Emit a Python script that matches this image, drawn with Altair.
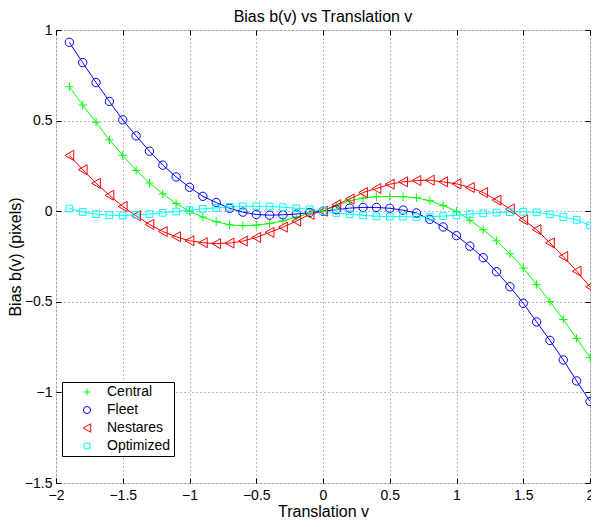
import altair as alt
import pandas as pd

# Translation v (sample positions)
x_vals = [-1.9, -1.8, -1.7, -1.6, -1.5, -1.4, -1.3, -1.2, -1.1, -1.0,
          -0.9, -0.8, -0.7, -0.6, -0.5, -0.4, -0.3, -0.2, -0.1, 0.0,
          0.1, 0.2, 0.3, 0.4, 0.5, 0.6, 0.7, 0.8, 0.9, 1.0,
          1.1, 1.2, 1.3, 1.4, 1.5, 1.6, 1.7, 1.8, 1.9, 2.0]

central = [0.687, 0.586, 0.491, 0.394, 0.308, 0.225, 0.156, 0.096, 0.042, 0.000,
           -0.033, -0.058, -0.075, -0.080, -0.077, -0.068, -0.053, -0.033, -0.011, 0.000,
           0.030, 0.058, 0.072, 0.080, 0.081, 0.080, 0.074, 0.058, 0.032, -0.001,
           -0.050, -0.102, -0.164, -0.235, -0.314, -0.404, -0.499, -0.598, -0.702, -0.808]

fleet = [0.932, 0.820, 0.710, 0.606, 0.504, 0.416, 0.331, 0.254, 0.189, 0.132,
         0.082, 0.048, 0.016, -0.005, -0.018, -0.022, -0.020, -0.016, -0.007, 0.000,
         0.008, 0.017, 0.021, 0.021, 0.016, 0.006, -0.010, -0.045, -0.087, -0.135,
         -0.193, -0.257, -0.334, -0.417, -0.508, -0.611, -0.713, -0.821, -0.937, -1.050]

nestares = [0.308, 0.229, 0.154, 0.088, 0.026, -0.025, -0.073, -0.112, -0.141, -0.163,
            -0.174, -0.179, -0.176, -0.165, -0.145, -0.117, -0.088, -0.055, -0.018, 0.000,
            0.036, 0.067, 0.103, 0.125, 0.149, 0.162, 0.169, 0.171, 0.162, 0.151,
            0.131, 0.103, 0.061, 0.012, -0.047, -0.102, -0.175, -0.250, -0.331, -0.417]

optimized = [0.015, -0.004, -0.016, -0.022, -0.024, -0.020, -0.016, -0.009, -0.002, 0.006,
             0.013, 0.018, 0.024, 0.027, 0.027, 0.026, 0.022, 0.016, 0.011, 0.000,
             -0.010, -0.017, -0.023, -0.028, -0.030, -0.030, -0.032, -0.030, -0.027, -0.023,
             -0.016, -0.012, -0.008, -0.005, -0.003, -0.006, -0.017, -0.032, -0.048, -0.078]

series_names = ["Central", "Fleet", "Nestares", "Optimized"]
series_colors = ["#00ff00", "#0000ff", "#ff0000", "#00ffff"]
PLUS = "M-1,0L1,0M0,-1L0,1"
TRI_LEFT = "M-1.05,0L1.05,-1.2L1.05,1.2Z"
SQUARE = "M-0.8,-0.8L0.8,-0.8L0.8,0.8L-0.8,0.8Z"
series_shapes = [PLUS, "circle", TRI_LEFT, SQUARE]

x_ticks = [-2, -1.5, -1, -0.5, 0, 0.5, 1, 1.5, 2]
y_ticks = [-1.5, -1, -0.5, 0, 0.5, 1]

rows = []
for name, vals in zip(series_names, [central, fleet, nestares, optimized]):
    for xv, yv in zip(x_vals, vals):
        rows.append({"v": xv, "b": yv, "series": name})
df = pd.DataFrame(rows)

W, H = 534, 453
FONT = "Liberation Sans"

xscale = alt.Scale(domain=[-2, 2], nice=False, zero=False)
yscale = alt.Scale(domain=[-1.5, 1], nice=False, zero=False)

legend_props = dict(
    title=None, orient="none", legendX=6, legendY=352,
    strokeColor="black", fillColor="white", padding=3,
    labelFontSize=14, labelFont=FONT, labelColor="black",
    symbolSize=50, symbolStrokeWidth=1, symbolOffset=15, labelOffset=13,
    rowPadding=4, cornerRadius=0,
)

color_enc = alt.Color("series:N", scale=alt.Scale(domain=series_names, range=series_colors),
                      legend=alt.Legend(**legend_props))
shape_enc = alt.Shape("series:N", scale=alt.Scale(domain=series_names, range=series_shapes),
                      legend=alt.Legend(**legend_props))

base = alt.Chart(df)

# line colours: same mapping, listed in reverse so that it forms its own (hidden) legend group
lines = base.mark_line(strokeWidth=1).encode(
    x=alt.X("v:Q", scale=xscale, axis=None),
    y=alt.Y("b:Q", scale=yscale, axis=None),
    stroke=alt.Stroke("series:N",
                      scale=alt.Scale(domain=series_names[::-1], range=series_colors[::-1]),
                      legend=None),
    detail="series:N",
)

grid_common = dict(grid=True, gridColor="black", gridDash=[1, 3], gridOpacity=0.55, gridWidth=1,
                   ticks=False, domain=False, labelFontSize=14, labelFont=FONT, labelColor="black",
                   format="~g", titleFont=FONT, titleFontSize=16, titleFontWeight="normal",
                   titleColor="black", labelFlush=False)

points = base.mark_point(filled=False, strokeWidth=1, opacity=1, size=70).encode(
    x=alt.X("v:Q", scale=xscale,
            axis=alt.Axis(orient="bottom", values=x_ticks, title="Translation v",
                          labelPadding=5, titleY=33, titleBaseline="alphabetic",
                          **grid_common)),
    y=alt.Y("b:Q", scale=yscale,
            axis=alt.Axis(orient="left", values=y_ticks, title="Bias b(v) (pixels)",
                          labelPadding=4, titleX=-41, titleBaseline="middle",
                          **grid_common)),
    color=color_enc,
    shape=shape_enc,
)

tick_common = dict(labels=False, domain=False, grid=False, ticks=True, tickSize=5,
                   tickColor="black", tickWidth=1, title=None)

ticks_a = base.mark_point(opacity=0).encode(
    x=alt.X("v:Q", scale=xscale, axis=alt.Axis(orient="top", offset=-H, values=x_ticks, **tick_common)),
    y=alt.Y("b:Q", scale=yscale, axis=alt.Axis(orient="right", offset=-W, values=y_ticks, **tick_common)),
)
ticks_b = base.mark_point(opacity=0).encode(
    x=alt.X("v:Q", scale=xscale, axis=alt.Axis(orient="bottom", offset=-H, values=x_ticks, **tick_common)),
    y=alt.Y("b:Q", scale=yscale, axis=alt.Axis(orient="left", offset=-W, values=y_ticks, **tick_common)),
)

chart = alt.layer(lines, points, ticks_a, ticks_b).resolve_scale(
    x="independent", y="independent"
).properties(
    width=W, height=H,
    title=alt.TitleParams("Bias b(v) vs Translation v", fontSize=16, fontWeight="normal",
                          font=FONT, color="black", anchor="middle", offset=0, dy=2),
    autosize=alt.AutoSizeParams(type="none"),
    padding={"left": 48, "top": 22, "right": 1, "bottom": 36},
).configure_view(
    stroke="black", strokeWidth=1
).configure(background="white")

chart.save("out.html", embed_options={"renderer": "svg", "actions": False})
